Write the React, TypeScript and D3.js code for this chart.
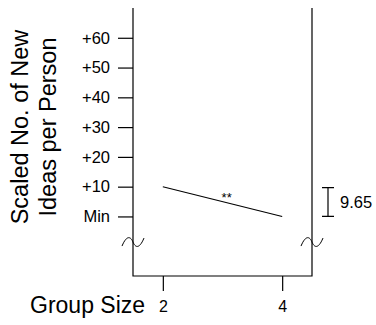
import React, { useEffect, useRef } from 'react';
import * as d3 from 'd3';

// data
const groupSizes = [2, 4];
const scaledIdeas = [10, 0];
const yTickValues = [0, 10, 20, 30, 40, 50, 60];
const yTickLabels = ['Min', '+10', '+20', '+30', '+40', '+50', '+60'];
const errorValue = 9.65;
const significance = '**';

const App = () => {
  const ref = useRef<SVGSVGElement | null>(null);

  useEffect(() => {
    const svg = d3.select(ref.current);
    svg.selectAll('*').remove();

    const left = 133;
    const right = 312;
    const top = 8;
    const bottom = 276;
    const font = 'Liberation Sans, Arial, Helvetica, sans-serif';

    const x = d3.scaleLinear().domain([1.5, 4.5]).range([left, right]);
    const y = d3.scaleLinear().domain([-20, 70]).range([bottom, top]);

    const g = svg.append('g');

    // frame: two verticals and the bottom
    g.append('path')
      .attr('d', `M${left},${top}V${bottom}H${right}V${top}`)
      .attr('fill', 'none')
      .attr('stroke', '#000')
      .attr('stroke-width', 1.2);

    // y axis
    const yAxis = d3.axisLeft(y)
      .tickValues(yTickValues)
      .tickSize(15)
      .tickPadding(8)
      .tickFormat((d, i) => yTickLabels[i]);
    const yg = g.append('g')
      .attr('transform', `translate(${left},0)`)
      .call(yAxis);
    yg.select('.domain').remove();
    yg.selectAll('line').attr('stroke', '#000').attr('stroke-width', 1.2);
    yg.selectAll('text')
      .attr('font-family', font)
      .attr('font-size', 16.5)
      .attr('fill', '#000');

    // x axis
    const xAxis = d3.axisBottom(x)
      .tickValues(groupSizes)
      .tickSize(15)
      .tickPadding(10)
      .tickFormat(d3.format('d'));
    const xg = g.append('g')
      .attr('transform', `translate(0,${bottom})`)
      .call(xAxis);
    xg.select('.domain').remove();
    xg.selectAll('line').attr('stroke', '#000').attr('stroke-width', 1.2);
    xg.selectAll('text')
      .attr('font-family', font)
      .attr('font-size', 16)
      .attr('fill', '#000');

    // axis breaks
    const breakY = y(-8.6);
    [left, right].forEach((bx) => {
      g.append('path')
        .attr('d', `M${bx - 11},${breakY + 4} C${bx - 6},${breakY - 8} ${bx - 2},${breakY - 5} ${bx},${breakY} C${bx + 2},${breakY + 5} ${bx + 6},${breakY + 8} ${bx + 11},${breakY - 4}`)
        .attr('fill', 'none')
        .attr('stroke', '#000')
        .attr('stroke-width', 1);
    });

    // data line
    const line = d3.line<number>()
      .x((d, i) => x(groupSizes[i]))
      .y((d) => y(d));
    g.append('path')
      .datum(scaledIdeas)
      .attr('d', line)
      .attr('fill', 'none')
      .attr('stroke', '#000')
      .attr('stroke-width', 1.1);

    g.append('text')
      .attr('x', x(3.07))
      .attr('y', y(4.8))
      .attr('text-anchor', 'middle')
      .attr('font-family', font)
      .attr('font-size', 13)
      .text(significance);

    // error bar
    const ex = right + 16;
    g.append('path')
      .attr('d', `M${ex - 6},${y(errorValue)}H${ex + 6}M${ex},${y(errorValue)}V${y(0)}M${ex - 6},${y(0)}H${ex + 6}`)
      .attr('fill', 'none')
      .attr('stroke', '#000')
      .attr('stroke-width', 1.2);
    g.append('text')
      .attr('x', ex + 12)
      .attr('y', y(errorValue / 2) + 6)
      .attr('font-family', font)
      .attr('font-size', 16.5)
      .text(String(errorValue));

    // axis titles
    const yTitle = g.append('text')
      .attr('transform', 'translate(0,127) rotate(-90)')
      .attr('text-anchor', 'middle')
      .attr('font-family', font)
      .attr('font-size', 23.5);
    yTitle.append('tspan').attr('x', 0).attr('y', 28).text('Scaled No. of New');
    yTitle.append('tspan').attr('x', 0).attr('y', 56).text('Ideas per Person');

    g.append('text')
      .attr('x', 30)
      .attr('y', 313)
      .attr('font-family', font)
      .attr('font-size', 23)
      .text('Group Size');
  }, []);

  return (
    <svg
      ref={ref}
      width={376}
      height={325}
      style={{ position: 'absolute', left: 0, top: 0, background: '#fff' }}
    />
  );
};

export default App;
